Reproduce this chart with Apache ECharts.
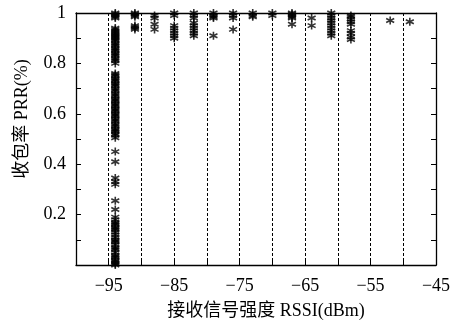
<!DOCTYPE html>
<html>
<head>
<meta charset="utf-8">
<script src="https://cdn.jsdelivr.net/npm/echarts@6/dist/echarts.min.js"></script>
<style>
html, body { margin: 0; background: #fff; }
#chart { width: 459px; height: 327px; }
</style>
</head>
<body>
<div id="chart"></div>
<script>
// RSSI columns (dBm) and the PRR readings measured at each one
const rssiLevels = [-94, -91, -88, -85, -82, -79, -76, -73, -70, -67, -64, -61, -58, -52, -49];

const prrAt94 = [
    1.0, 0.995, 0.99, 0.985, 0.98,
    0.94, 0.935, 0.93, 0.925, 0.92, 0.915, 0.91, 0.905, 0.90, 0.895, 0.89, 0.88, 0.875, 0.87,
    0.86, 0.855, 0.85, 0.84, 0.835, 0.83, 0.82, 0.815, 0.81, 0.80,
    0.76, 0.755, 0.75, 0.74, 0.735, 0.73, 0.72, 0.715, 0.71, 0.70, 0.695, 0.69, 0.68, 0.675,
    0.67, 0.66, 0.655, 0.65, 0.64, 0.635, 0.63, 0.62, 0.615, 0.61, 0.60, 0.595, 0.59, 0.58,
    0.575, 0.57, 0.56, 0.555, 0.55, 0.54, 0.535, 0.53, 0.52, 0.515, 0.505,
    0.45, 0.41, 0.345, 0.33, 0.32, 0.255, 0.22,
    0.19, 0.18, 0.17, 0.165, 0.16, 0.15, 0.145, 0.14, 0.13, 0.12, 0.11, 0.10, 0.095, 0.09,
    0.08, 0.07, 0.065, 0.06, 0.05, 0.04, 0.035, 0.03, 0.02, 0.015, 0.01, 0.005, 0.0
];
const prrAt91 = [1.0, 0.995, 0.99, 0.985, 0.95, 0.945, 0.94, 0.935];
const prrAt88 = [0.99, 0.98, 0.955, 0.935];
const prrAt85 = [1.0, 0.99, 0.95, 0.94, 0.93, 0.92, 0.91, 0.90];
const prrAt82 = [1.0, 0.99, 0.98, 0.96, 0.95, 0.94, 0.93, 0.92, 0.91];
const prrAt79 = [1.0, 0.99, 0.985, 0.98, 0.91];
const prrAt76 = [1.0, 0.99, 0.98, 0.935];
const prrAt73 = [1.0, 0.99, 0.985];
const prrAt70 = [1.0, 0.99];
const prrAt67 = [1.0, 0.995, 0.99, 0.985, 0.98, 0.955];
const prrAt64 = [0.98, 0.95];
const prrAt61 = [1.0, 0.99, 0.98, 0.97, 0.96, 0.95, 0.94, 0.93, 0.92, 0.91];
const prrAt58 = [0.99, 0.985, 0.975, 0.965, 0.955, 0.93, 0.92, 0.905, 0.895];
const prrAt52 = [0.97];
const prrAt49 = [0.965];

const prrColumns = [prrAt94, prrAt91, prrAt88, prrAt85, prrAt82, prrAt79, prrAt76,
    prrAt73, prrAt70, prrAt67, prrAt64, prrAt61, prrAt58, prrAt52, prrAt49];

const xTickLabels = [-95, -85, -75, -65, -55, -45];
const yTickLabels = [0.2, 0.4, 0.6, 0.8, 1];

let points = [];
rssiLevels.forEach((x, i) => {
    prrColumns[i].forEach(y => points.push([x, y]));
});

const serif = "'Liberation Serif', 'Noto Sans CJK SC', serif";
const chart = echarts.init(document.getElementById('chart'));

const boxLine = { show: true, onZero: false, lineStyle: { color: '#000', width: 1.3 } };
const innerTick = { show: true, inside: true, length: 5, lineStyle: { color: '#000', width: 1 } };

const option = {
    backgroundColor: '#fff',
    animation: false,
    grid: { left: 76, right: 23, top: 13, bottom: 62 },
    xAxis: [
        {
            type: 'value',
            min: -100,
            max: -45,
            interval: 5,
            axisLine: boxLine,
            axisTick: innerTick,
            axisLabel: {
                color: '#000',
                fontSize: 18,
                fontFamily: serif,
                margin: 12,
                formatter: v => xTickLabels.includes(v) ? '\u2212' + Math.abs(v) : ''
            },
            splitLine: { show: true, lineStyle: { color: '#000', type: [3, 2], width: 1 } }
        },
        {
            type: 'value',
            position: 'top',
            min: -100,
            max: -45,
            interval: 5,
            axisLine: boxLine,
            axisTick: { show: false },
            axisLabel: { show: false },
            splitLine: { show: false }
        }
    ],
    yAxis: [
        {
            type: 'value',
            min: 0,
            max: 1,
            interval: 0.1,
            axisLine: boxLine,
            axisTick: innerTick,
            axisLabel: {
                color: '#000',
                fontSize: 18,
                fontFamily: serif,
                margin: 10,
                formatter: v => {
                    let r = Math.round(v * 10) / 10;
                    if (!yTickLabels.includes(r)) return '';
                    return r === 1 ? '1' : r.toFixed(1);
                }
            },
            splitLine: { show: false }
        },
        {
            type: 'value',
            position: 'right',
            min: 0,
            max: 1,
            interval: 0.1,
            axisLine: boxLine,
            axisTick: innerTick,
            axisLabel: { show: false },
            splitLine: { show: false }
        }
    ],
    graphic: [
        {
            type: 'text',
            x: 266,
            y: 311,
            style: {
                text: '接收信号强度 RSSI(dBm)',
                font: '18px ' + serif,
                fill: '#000',
                align: 'center',
                verticalAlign: 'middle'
            }
        },
        {
            type: 'text',
            x: 22,
            y: 119,
            rotation: Math.PI / 2,
            style: {
                text: '收包率 PRR(%)',
                font: '18px ' + serif,
                fill: '#000',
                align: 'center',
                verticalAlign: 'middle'
            }
        }
    ],
    series: [
        {
            type: 'scatter',
            data: points,
            symbol: 'path://M0,-5L0,5M-4.33,-2.5L4.33,2.5M-4.33,2.5L4.33,-2.5',
            symbolSize: 8,
            itemStyle: { color: '#000', borderColor: '#000', borderWidth: 1.6 },
            clip: false
        }
    ]
};
chart.setOption(option);
</script>
</body>
</html>
